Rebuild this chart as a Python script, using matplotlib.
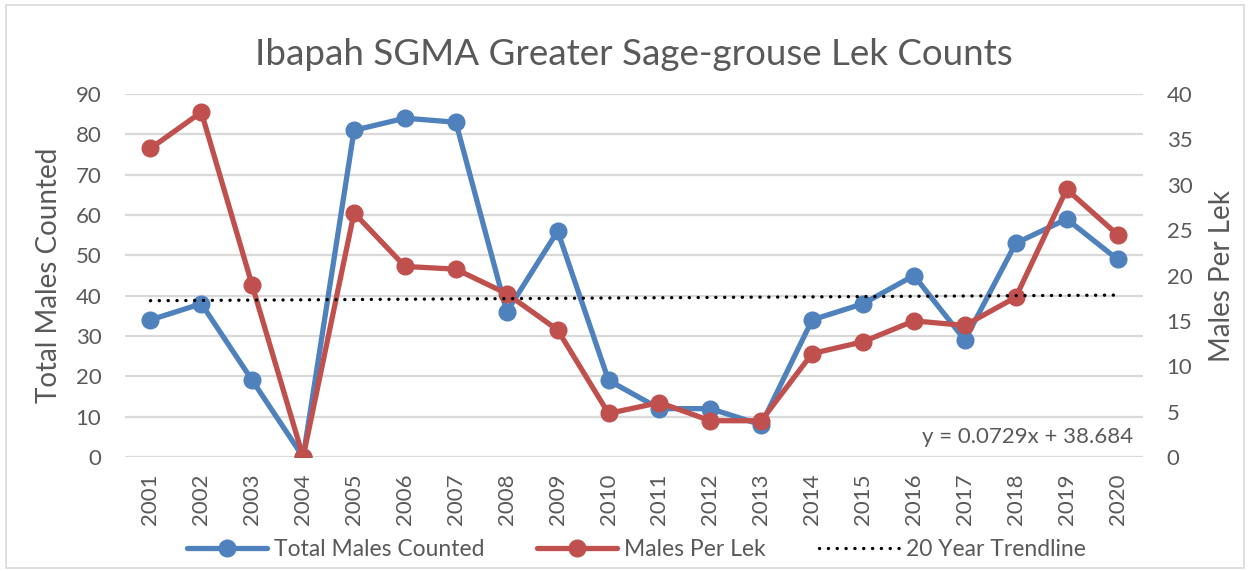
import numpy as np
import matplotlib
matplotlib.use("Agg")
import matplotlib.pyplot as plt
from matplotlib.patches import Rectangle

# data
years = ["2001", "2002", "2003", "2004", "2005", "2006", "2007", "2008", "2009", "2010",
         "2011", "2012", "2013", "2014", "2015", "2016", "2017", "2018", "2019", "2020"]
total_males = [34, 38, 19, 0, 81, 84, 83, 36, 56, 19, 12, 12, 8, 34, 38, 45, 29, 53, 59, 49]
males_per_lek = [34.0, 38.0, 18.9, 0.0, 26.9, 21.0, 20.7, 18.0, 14.0, 4.8,
                 6.0, 4.0, 4.0, 11.4, 12.7, 15.0, 14.5, 17.6, 29.5, 24.5]
left_ticks = [0, 10, 20, 30, 40, 50, 60, 70, 80, 90]
right_ticks = [0, 5, 10, 15, 20, 25, 30, 35, 40]
trend_label = "y = 0.0729x + 38.684"

BLUE = "#4F81BD"
RED = "#C0504D"
TEXT = "#595959"
GRID = "#D9D9D9"

plt.rcParams["font.family"] = ["Lato", "DejaVu Sans"]

fig = plt.figure(figsize=(12.5, 5.71), dpi=100)
ax = fig.add_axes([0.1, 0.1996, 0.8144, 0.6358])

x = np.arange(len(years))

# trendline = linear fit of the totals, x = 1..20 like Excel
k, b = np.polyfit(x + 1, total_males, 1)
trend = k * (x + 1) + b

ax.plot(x, total_males, color=BLUE, lw=3.8, marker="o", ms=12,
        solid_capstyle="round", label="Total Males Counted", zorder=3)

ax2 = ax.twinx()
ax2.plot(x, males_per_lek, color=RED, lw=3.8, marker="o", ms=12,
         solid_capstyle="round", label="Males Per Lek", zorder=3)

ax3 = ax.twinx()
ax3.plot(x, trend, color="black", lw=2.4, linestyle=(0, (0.05, 2.6)),
         dash_capstyle="round", label="20 Year Trendline", zorder=4)

for a in (ax, ax2, ax3):
    a.set_xlim(-0.5, len(years) - 0.5)
    for s in a.spines.values():
        s.set_visible(False)

ax.set_ylim(0, 90)
ax3.set_ylim(0, 90)
ax3.set_yticks([])
ax2.set_ylim(0, 40)

ax.set_yticks(left_ticks)
ax2.set_yticks(right_ticks)
ax.set_xticks(x)
ax.set_xticklabels(years, rotation=90)
ax.tick_params(axis="y", length=0, pad=17, labelsize=16, labelcolor=TEXT)
ax.tick_params(axis="x", length=0, pad=12, labelsize=16, labelcolor=TEXT)
ax2.tick_params(axis="y", length=0, pad=17, labelsize=16, labelcolor=TEXT)

ax.grid(axis="y", color=GRID, lw=1.6)
ax.set_axisbelow(True)

ax.set_ylabel("Total Males Counted", fontsize=20, color=TEXT, labelpad=10)
ax2.set_ylabel("Males Per Lek", fontsize=20, color=TEXT, labelpad=12)

ax.text(0.99, 0.055, trend_label, transform=ax.transAxes, ha="right", va="center",
        fontsize=16, color=TEXT)

fig.text(0.507, 0.905, "Ibapah SGMA Greater Sage-grouse Lek Counts",
         ha="center", va="center", fontsize=26.5, color=TEXT)

handles = ax.get_lines()[:1] + ax2.get_lines()[:1] + ax3.get_lines()[:1]
fig.legend(handles, [h.get_label() for h in handles], loc="center",
           bbox_to_anchor=(0.509, 0.038), ncol=3, frameon=False, fontsize=16.5,
           labelcolor=TEXT, handlelength=3.5, handletextpad=0.3, columnspacing=2.3)

# light chart-area border
fig.patches.append(Rectangle((0.005, 0.006), 0.99, 0.985, transform=fig.transFigure,
                             fill=False, edgecolor=GRID, lw=1.2))

fig.savefig("out.png", dpi=100)
